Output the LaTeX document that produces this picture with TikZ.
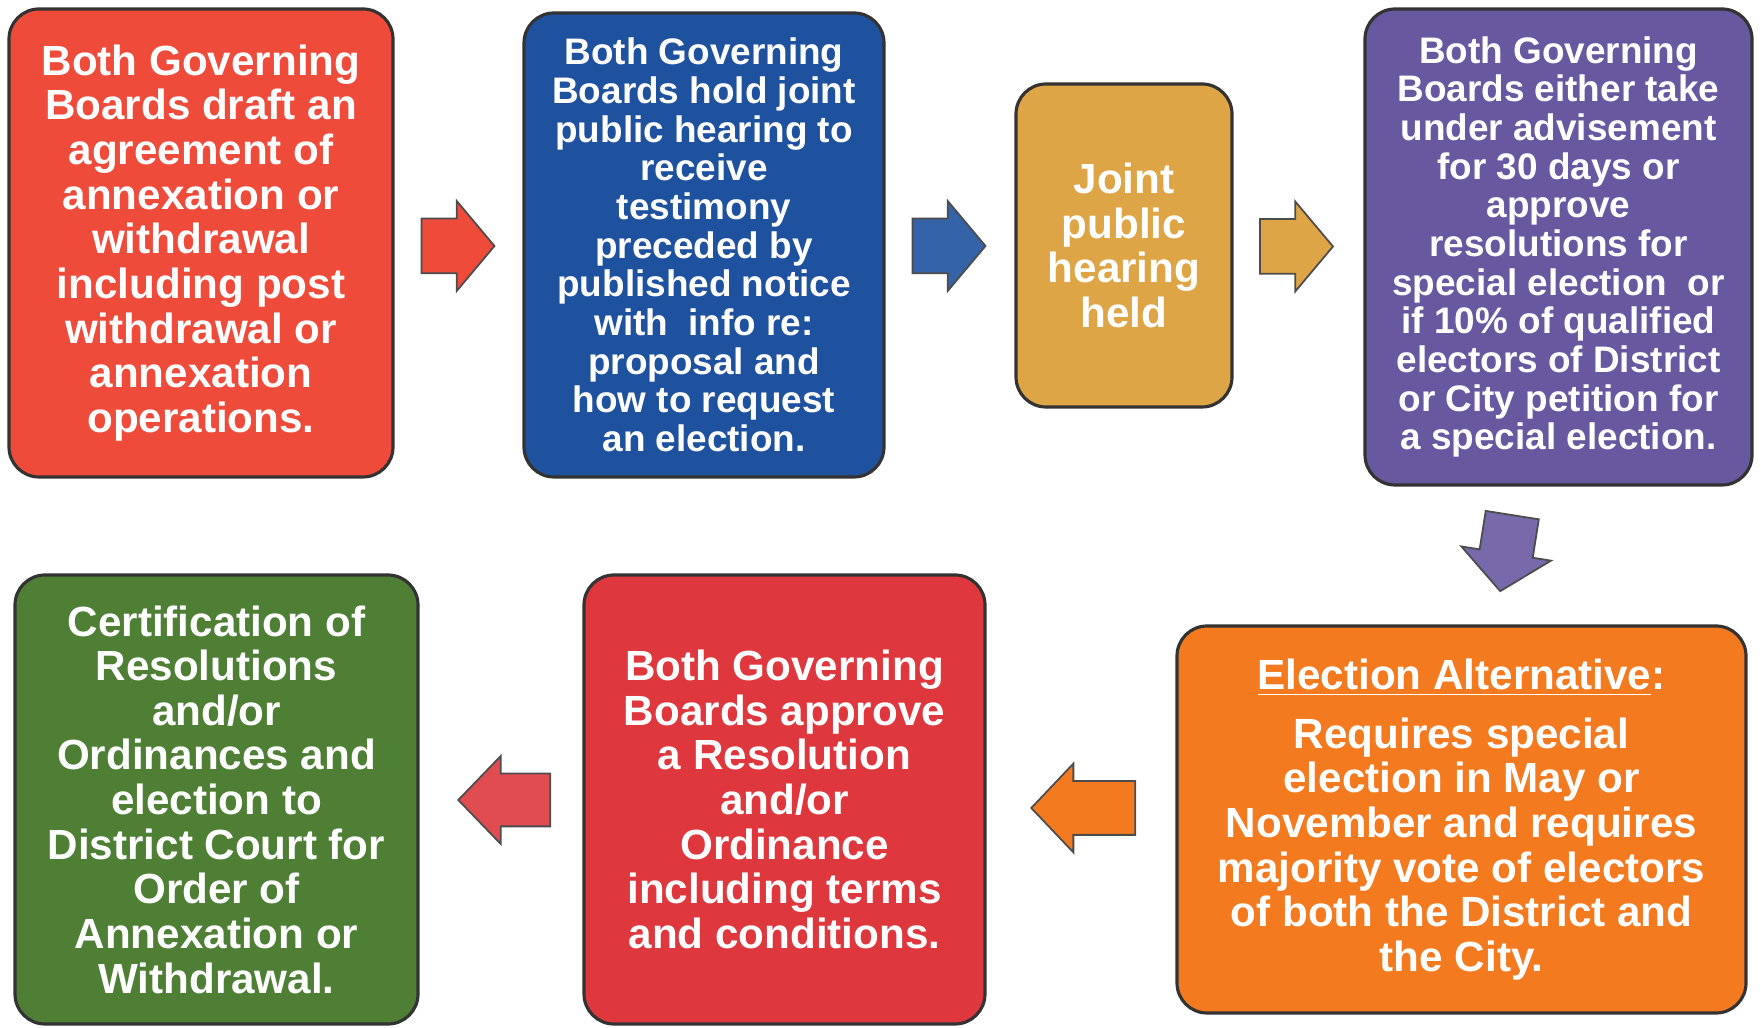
\documentclass[tikz,border=0pt]{standalone}
\usepackage{fontspec}
\setmainfont{Liberation Sans}
\usepackage{tikz}
\usetikzlibrary{shapes.arrows}

\definecolor{redA}{RGB}{238,75,59}
\definecolor{blueA}{RGB}{31,82,158}
\definecolor{goldA}{RGB}{221,165,69}
\definecolor{purpleA}{RGB}{104,88,160}
\definecolor{orangeA}{RGB}{244,122,32}
\definecolor{redB}{RGB}{222,56,62}
\definecolor{greenA}{RGB}{78,127,53}

\begin{document}
\begin{tikzpicture}
  [
   box/.style={rectangle,rounded corners=3mm,draw=black!80,line width=0.9pt,text=white,
               align=center,inner sep=0pt,font=\bfseries\fontsize{12}{12.7}\selectfont},
   small/.style={font=\bfseries\fontsize{10.5}{11}\selectfont},
   arr/.style={single arrow,draw=black!70,line width=0.5pt,inner xsep=0pt,inner ysep=0.265cm,
               single arrow head extend=1.75mm,single arrow tip angle=100}
  ]
   \useasboundingbox (0,0) rectangle (17.61,10.28);

   % top row
   \node[box,fill=redA,minimum width=3.84cm,minimum height=4.68cm] (n1) at (2.01,7.85)
     {Both Governing\\Boards draft an\\agreement of\\annexation or\\withdrawal\\including post\\withdrawal or\\annexation\\operations.};
   \node[box,small,fill=blueA,minimum width=3.60cm,minimum height=4.64cm] (n2) at (7.04,7.83)
     {Both Governing\\Boards hold joint\\public hearing to\\receive\\testimony\\preceded by\\published notice\\with\ \ info re:\\proposal and\\how to request\\an election.};
   \node[box,fill=goldA,minimum width=2.16cm,minimum height=3.23cm] (n3) at (11.24,7.825)
     {Joint\\public\\hearing\\held};
   \node[box,small,fill=purpleA,minimum width=3.87cm,minimum height=4.76cm] (n4) at (15.585,7.81)
     {Both Governing\\Boards either take\\under advisement\\for 30 days or\\approve\\resolutions for\\special election\ \ or\\if 10\% of qualified\\electors of District\\or City petition for\\a special election.};

   % bottom row
   \node[box,fill=orangeA,minimum width=5.69cm,minimum height=3.87cm] (n5) at (14.615,2.085)
     {\underline{Election Alternative}:\\[4pt]Requires special\\election in May or\\November and requires\\majority vote of electors\\of both the District and\\the City.};
   \node[box,fill=redB,minimum width=4.01cm,minimum height=4.49cm] (n6) at (7.845,2.285)
     {Both Governing\\Boards approve\\a Resolution\\and/or\\Ordinance\\including terms\\and conditions.};
   \node[box,fill=greenA,minimum width=4.03cm,minimum height=4.49cm] (n7) at (2.165,2.285)
     {Certification of\\Resolutions\\and/or\\Ordinances and\\election to\\District Court for\\Order of\\Annexation or\\Withdrawal.};

   % arrows between the steps
   \node[arr,fill=redA,minimum height=0.73cm,minimum width=0.88cm] (a1) at (4.465,7.82) {};
   \node[arr,fill=blueA!90!white,minimum height=0.73cm,minimum width=0.88cm] (a2) at (9.375,7.82) {};
   \node[arr,fill=goldA,minimum height=0.73cm,minimum width=0.88cm] (a3) at (12.85,7.815) {};
   \node[arr,fill=purpleA!90!white,minimum height=0.77cm,minimum width=0.89cm,inner ysep=0.26cm,
         single arrow head extend=1.85mm,rotate=261] (a4) at (15.08,4.86) {};
   \node[arr,fill=orangeA,minimum height=1.04cm,minimum width=0.86cm,inner ysep=0.26cm,
         single arrow tip angle=93,rotate=180] (a5) at (10.96,2.20) {};
   \node[arr,fill=redB!90!white,minimum height=0.92cm,minimum width=0.87cm,inner ysep=0.255cm,
         single arrow tip angle=92,rotate=180] (a6) at (5.17,2.28) {};

\end{tikzpicture}
\end{document}
